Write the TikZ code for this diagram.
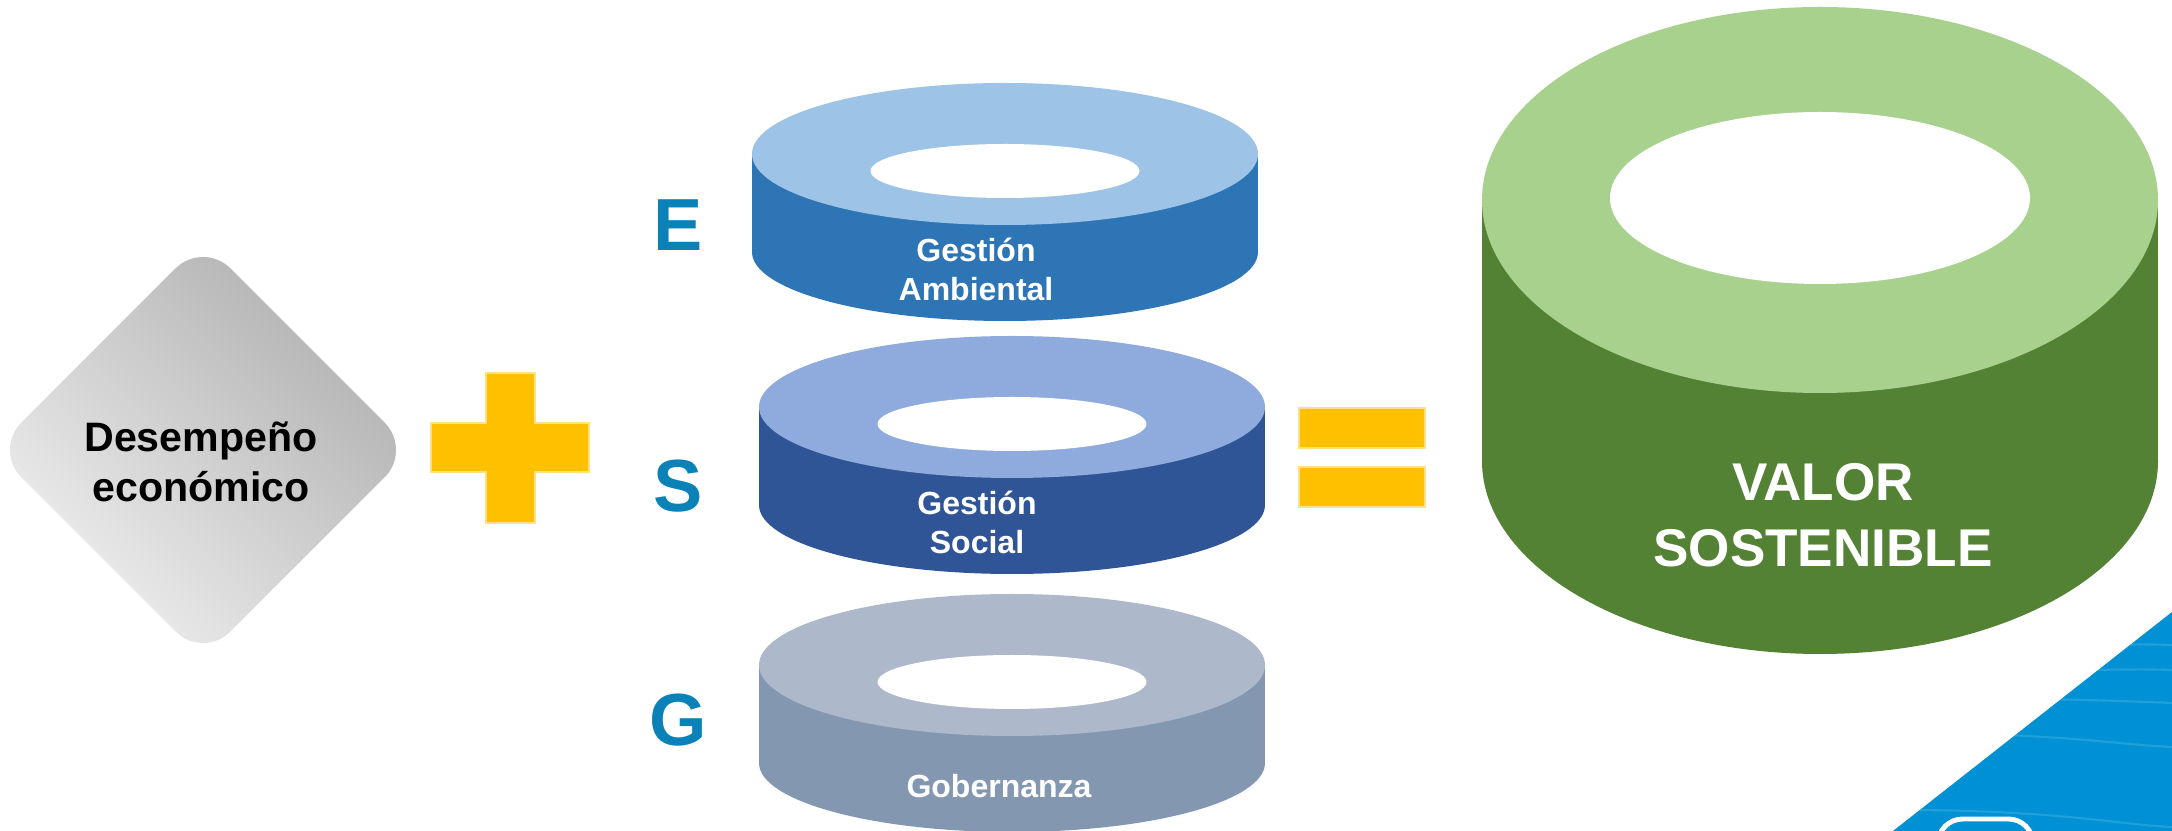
\documentclass[tikz,border=0pt]{standalone}
\usepackage{fontspec}
\setmainfont{Liberation Sans}
\usepackage{tikz}

\definecolor{grisosc}{HTML}{AFAFAF}
\definecolor{griscla}{HTML}{F0F0F0}
\definecolor{amarillo}{HTML}{FFC000}
\definecolor{amarilloborde}{HTML}{FFE08A}
\definecolor{esgazul}{HTML}{0A82B8}
\definecolor{ambtop}{HTML}{9DC3E6}
\definecolor{ambside}{HTML}{2E75B6}
\definecolor{soctop}{HTML}{8FAADC}
\definecolor{socside}{HTML}{2F5597}
\definecolor{gobtop}{HTML}{ADB9CA}
\definecolor{gobside}{HTML}{8497B0}
\definecolor{valtop}{HTML}{A9D18E}
\definecolor{valside}{HTML}{548235}
\definecolor{esquina}{HTML}{0091D5}

\begin{document}
\begin{tikzpicture}[x=0.01cm,y=-0.01cm,
    etiqueta/.style={text=white,font=\bfseries\fontsize{9.1}{11.1}\selectfont,
                     align=center,inner sep=0pt,anchor=south},
    letra/.style={text=esgazul,font=\bfseries\fontsize{21}{24}\selectfont,
                  inner sep=0pt,anchor=base},
    signo/.style={fill=amarillo,draw=amarilloborde,line width=0.6pt}]

  \fill[white] (0,0) rectangle (2172,831);
  \clip (0,0) rectangle (2172,831);

  % desempeno economico
  \path[top color=grisosc,bottom color=griscla,shading angle=-45,rounded corners=11pt]
    (203,241) -- (412,450) -- (203,659) -- (-6,450) -- cycle;
  \node[inner sep=0pt,anchor=south,align=center,
        font=\bfseries\fontsize{11.7}{14.2}\selectfont] (desempeno) at (201,503)
        {Desempeño\\económico};

  % plus sign
  \path[signo] (486,373) -- (535,373) -- (535,423) -- (589,423) -- (589,472)
    -- (535,472) -- (535,523) -- (486,523) -- (486,472) -- (431,472)
    -- (431,423) -- (486,423) -- cycle;

  % E S G rings
  \foreach \cx/\cy/\tapa/\lado in {1005/154/ambtop/ambside,
                                   1012/407/soctop/socside,
                                   1012/665/gobtop/gobside}
  {
    \fill[\lado] (\cx-253,\cy) rectangle (\cx+253,\cy+98);
    \fill[\lado] (\cx,\cy+98) ellipse[x radius=253,y radius=69];
    \fill[\tapa] (\cx,\cy) ellipse[x radius=253,y radius=71];
    \fill[white] (\cx,\cy+17) ellipse[x radius=134.5,y radius=27];
  }

  \node[letra] (E) at (678,251) {E};
  \node[letra] (S) at (678,512) {S};
  \node[letra] (G) at (678,746) {G};

  \node[etiqueta] (ambiental) at (976,302) {Gestión\\Ambiental};
  \node[etiqueta] (social) at (977,555) {Gestión\\Social};
  \node[etiqueta] (gobernanza) at (999,799) {Gobernanza};

  % equals sign
  \path[signo] (1299,408) rectangle (1425,448);
  \path[signo] (1299,467) rectangle (1425,507);

  % valor sostenible
  \fill[valside] (1482,200) rectangle (2158,461);
  \fill[valside] (1820,461) ellipse[x radius=338,y radius=193];
  \fill[valtop] (1820,200) ellipse[x radius=338,y radius=193];
  \fill[white] (1820,198) ellipse[x radius=210,y radius=86];
  \node[etiqueta,font=\bfseries\fontsize{15.1}{18.8}\selectfont] (valor)
    at (1823,568) {VALOR\\SOSTENIBLE};

  % blue corner
  \fill[esquina] (2172,612) -- (1893,831) -- (2172,831) -- cycle;
  \begin{scope}
    \clip (2172,612) -- (1893,831) -- (2172,831) -- cycle;
    \foreach \ya/\yb in {647/645, 672/670, 698/703, 733/747, 810/827}
      \draw[white,opacity=0.13,line width=0.6pt]
        (1900,\ya) .. controls (2060,\ya) and (2120,\yb-2) .. (2172,\yb);
  \end{scope}
  \draw[white,line width=1.4pt,rounded corners=7pt] (1938,819) rectangle (2033,900);
\end{tikzpicture}
\end{document}
